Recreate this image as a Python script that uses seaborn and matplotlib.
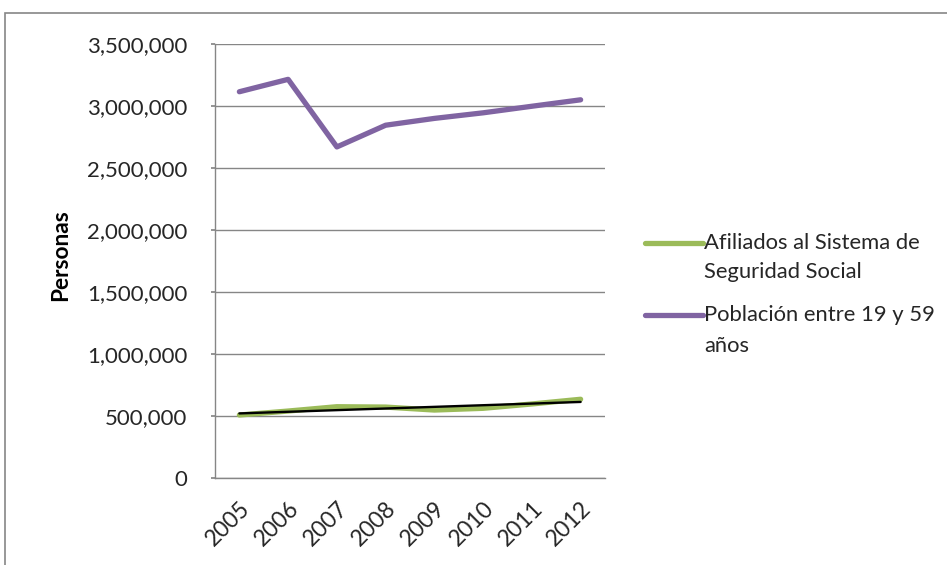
import matplotlib
matplotlib.use("Agg")
import matplotlib.pyplot as plt
import matplotlib.ticker as mticker
from matplotlib.lines import Line2D
from matplotlib.patches import Rectangle
import seaborn as sns
import numpy as np
import pandas as pd

years = ["2005", "2006", "2007", "2008", "2009", "2010", "2011", "2012"]
afiliados = [508000, 540000, 575000, 572000, 548000, 562000, 597000, 635000]
poblacion = [3115000, 3215000, 2670000, 2845000, 2900000, 2945000, 2998000, 3050000]
series_names = ["Afiliados al Sistema de\nSeguridad Social", "Población entre 19 y 59\naños"]
colors = ["#9BBB59", "#8064A2"]

sns.set_theme(style="white")
plt.rcParams['font.family'] = ['Lato', 'DejaVu Sans']

df = pd.DataFrame({
    "x": list(range(len(years))) * 2,
    "value": afiliados + poblacion,
    "serie": [series_names[0]] * len(years) + [series_names[1]] * len(years),
})

W, H = 947, 565
fig = plt.figure(figsize=(W / 100, H / 100), dpi=100)
ax = fig.add_axes([215 / W, 1 - 478 / H, (605 - 215) / W, (478 - 44) / H])

sns.lineplot(data=df, x="x", y="value", hue="serie", palette=colors,
             linewidth=3.8, ax=ax, legend=False, solid_capstyle="round",
             solid_joinstyle="round")

# linear trendline on afiliados
xs = np.arange(len(years))
coef = np.polyfit(xs, afiliados, 1)
ax.plot(xs, np.polyval(coef, xs), color="black", linewidth=1.7, zorder=5,
        solid_capstyle="round")

ax.set_xlim(-0.5, len(years) - 0.5)
ax.set_ylim(0, 3500000)
ax.set_yticks(np.arange(0, 3500001, 500000))
ax.yaxis.set_major_formatter(mticker.FuncFormatter(lambda v, p: f"{int(v):,}"))
ax.set_xticks(xs)
ax.set_xticklabels(years, rotation=45, ha="right", rotation_mode="anchor", fontsize=16.5)
ax.tick_params(axis="y", labelsize=16, length=3, color="#868686", left=True, pad=17)
ax.tick_params(axis="x", length=0, pad=14)
ax.grid(axis="y", color="#868686", linewidth=1)
ax.set_axisbelow(True)
for s in ["top", "right"]:
    ax.spines[s].set_visible(False)
for s in ["left", "bottom"]:
    ax.spines[s].set_color("#868686")
    ax.spines[s].set_linewidth(1)
ax.set_xlabel("")
ax.set_ylabel("")
fig.text(61 / W, 1 - 255 / H, "Personas", rotation=90, ha="center", va="center",
         fontsize=16.3, fontweight="bold", color="black")

# legend (drawn manually to match layout)
legend_rows = [(243, 272), (315, 346)]
for name, col, (y1, y2) in zip(series_names, colors, legend_rows):
    fig.add_artist(Line2D([645 / W, 703 / W], [1 - y1 / H, 1 - y1 / H], color=col,
                          linewidth=3.8, solid_capstyle="round", transform=fig.transFigure))
    first, second = name.split("\n")
    fig.text(704 / W, 1 - y1 / H, first, ha="left", va="center", fontsize=15.8)
    fig.text(704 / W, 1 - y2 / H, second, ha="left", va="center", fontsize=15.8)

# chart border
fig.patches.append(Rectangle((5 / W, -0.1), 1.2, 1 - 13 / H + 0.1, transform=fig.transFigure,
                             fill=False, edgecolor="#868686", linewidth=1.2))

fig.savefig("out.png", dpi=100)
